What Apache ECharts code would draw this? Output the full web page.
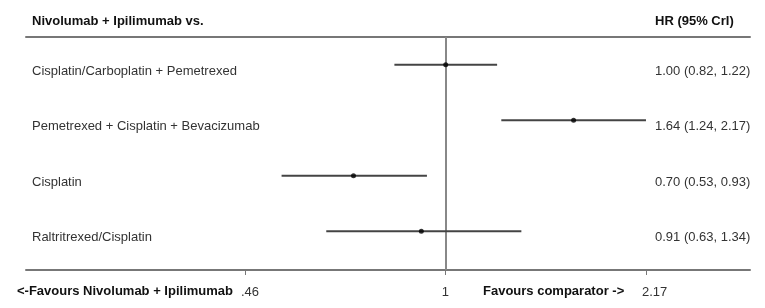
<!DOCTYPE html>
<html>
<head>
<meta charset="utf-8">
<script src="https://cdn.jsdelivr.net/npm/echarts@6/dist/echarts.min.js"></script>
<style>
html,body{margin:0;padding:0;background:#fff;}
#chart{width:765px;height:308px;}
</style>
</head>
<body>
<div id="chart"></div>
<script>
var comparators = [
  'Cisplatin/Carboplatin + Pemetrexed',
  'Pemetrexed + Cisplatin + Bevacizumab',
  'Cisplatin',
  'Raltritrexed/Cisplatin'
];
var hrValues = [1.00, 1.64, 0.70, 0.91];
var lowerCI = [0.82, 1.24, 0.53, 0.63];
var upperCI = [1.22, 2.17, 0.93, 1.34];
var xTicks = [0.46, 1, 2.17];
var xTickLabels = ['.46', '1', '2.17'];

var FONT = 'Liberation Sans, Arial, sans-serif';
var rowIdx = comparators.map(function (_, i) { return i; });
var hrText = hrValues.map(function (v, i) {
  return v.toFixed(2) + ' (' + lowerCI[i].toFixed(2) + ', ' + upperCI[i].toFixed(2) + ')';
});

var chart = echarts.init(document.getElementById('chart'));
var xMin = 0.1972, xMax = 3.245;
var boldStyle = {fontFamily: FONT, fontSize: 13, fontWeight: 'bold', color: '#111'};

chart.setOption({
  animation: false,
  title: [
    {text: 'Nivolumab + Ipilimumab vs.', left: 32, top: 15, padding: 0, textStyle: boldStyle},
    {text: 'HR (95% CrI)', left: 655, top: 15, padding: 0, textStyle: boldStyle},
    {text: '<-Favours Nivolumab + Ipilimumab', left: 17, top: 285, padding: 0, textStyle: boldStyle},
    {text: 'Favours comparator ->', left: 483, top: 285, padding: 0, textStyle: boldStyle}
  ],
  grid: [
    {left: 26, right: 15, top: 37, bottom: 38},
    {left: 655, right: 0, top: 37, bottom: 38}
  ],
  xAxis: [
    {type: 'log', logBase: 10, min: xMin, max: xMax, gridIndex: 0, position: 'bottom',
     axisLine: {show: true, onZero: false, lineStyle: {color: '#777', width: 2}},
     axisTick: {show: true, customValues: xTicks, length: 5, lineStyle: {color: '#777', width: 1}},
     axisLabel: {show: true, customValues: xTicks, align: 'left', margin: 16, padding: [0, 0, 0, -4],
       fontFamily: FONT, fontSize: 13, color: '#333',
       formatter: function (v) {
         for (var i = 0; i < xTicks.length; i++) { if (Math.abs(xTicks[i] - v) < 1e-6) return xTickLabels[i]; }
         return '';
       }},
     splitLine: {show: false}, minorTick: {show: false}, minorSplitLine: {show: false}},
    {type: 'log', logBase: 10, min: xMin, max: xMax, gridIndex: 0, position: 'top',
     axisLine: {show: true, onZero: false, lineStyle: {color: '#777', width: 2}},
     axisTick: {show: false}, axisLabel: {show: false}, splitLine: {show: false}},
    {type: 'value', gridIndex: 1, show: false, min: 0, max: 1}
  ],
  yAxis: [
    {type: 'value', gridIndex: 0, inverse: true, min: -0.5, max: 3.7,
     axisLine: {show: false}, axisTick: {show: false}, splitLine: {show: false},
     axisLabel: {show: true, inside: true, margin: 6, customValues: rowIdx,
       verticalAlign: 'top', lineHeight: 13,
       fontFamily: FONT, fontSize: 13, color: '#333',
       formatter: function (v) { return comparators[Math.round(v)] || ''; }}},
    {type: 'value', gridIndex: 1, inverse: true, min: -0.5, max: 3.7,
     axisLine: {show: false}, axisTick: {show: false}, splitLine: {show: false},
     axisLabel: {show: true, inside: true, margin: 0, customValues: rowIdx,
       verticalAlign: 'top', lineHeight: 13,
       fontFamily: FONT, fontSize: 13, color: '#333',
       formatter: function (v) { return hrText[Math.round(v)] || ''; }}}
  ],
  series: [
    {
      type: 'custom', xAxisIndex: 0, yAxisIndex: 0,
      data: rowIdx.map(function (i) { return [lowerCI[i], upperCI[i], i]; }),
      encode: {x: [0, 1], y: 2},
      renderItem: function (params, api) {
        var p1 = api.coord([api.value(0), api.value(2)]);
        var p2 = api.coord([api.value(1), api.value(2)]);
        return {type: 'line', shape: {x1: p1[0], y1: p1[1], x2: p2[0], y2: p2[1]},
          style: {stroke: '#444', lineWidth: 2}};
      },
      z: 3
    },
    {
      type: 'scatter', xAxisIndex: 0, yAxisIndex: 0,
      data: rowIdx.map(function (i) { return [hrValues[i], i]; }),
      symbol: 'circle', symbolSize: 5,
      itemStyle: {color: '#000'},
      z: 4,
      markLine: {
        silent: true, symbol: 'none', label: {show: false}, z: 2,
        lineStyle: {color: '#888', width: 2, type: 'solid'},
        data: [{xAxis: 1}]
      }
    }
  ]
});
</script>
</body>
</html>
